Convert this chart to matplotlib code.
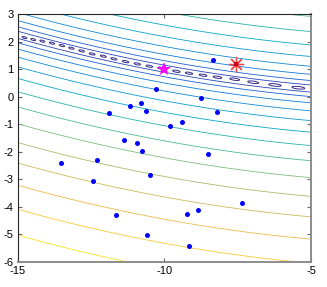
import numpy as np
import matplotlib
matplotlib.use("Agg")
import matplotlib.pyplot as plt
from matplotlib.colors import LinearSegmentedColormap, Normalize
from matplotlib.patches import Ellipse

# centres of the little closed loops along the bottom of the valley
valley_x = [-14.77, -14.47, -14.16, -13.83, -13.49, -13.17, -12.82, -12.46,
            -12.08, -11.72, -11.32, -10.92, -10.51, -10.10, -9.59, -9.16,
            -8.68, -8.19, -7.60, -6.97, -6.23, -5.43]
valley_y = [2.155, 2.083, 2.025, 1.952, 1.864, 1.770, 1.670, 1.560,
            1.477, 1.380, 1.280, 1.197, 1.113, 1.040, 0.930, 0.858,
            0.785, 0.712, 0.640, 0.530, 0.430, 0.330]

# sample points
pts_x = [-8.34, -10.27, -11.17, -10.81, -10.64, -11.88, -9.82, -8.75, -8.21,
         -9.41, -11.38, -10.93, -10.75, -13.51, -12.31, -12.44, -10.48,
         -11.64, -10.60, -8.50, -7.34, -8.86, -9.23, -9.15]
pts_y = [1.34, 0.28, -0.33, -0.21, -0.52, -0.59, -1.05, -0.03, -0.54,
         -0.90, -1.57, -1.69, -1.96, -2.42, -2.29, -3.05, -2.83,
         -4.30, -5.02, -2.08, -3.87, -4.12, -4.26, -5.43]

true_point = (-10.0, 1.0)
estimate = (-7.54, 1.20)

level_step = 0.18
n_levels = 15

x_ticks = [-15, -10, -5]
y_ticks = [-6, -5, -4, -3, -2, -1, 0, 1, 2, 3]

parula_pts = [(0.2081, 0.1663, 0.5292), (0.1253, 0.3242, 0.8303),
              (0.0629, 0.4737, 0.8554), (0.0488, 0.5772, 0.8228),
              (0.0267, 0.6642, 0.7607), (0.2178, 0.7250, 0.6193),
              (0.4871, 0.7491, 0.4840), (0.7184, 0.7411, 0.3905),
              (0.9139, 0.7258, 0.3063), (0.9789, 0.8271, 0.1633),
              (0.9763, 0.9831, 0.0538)]
parula = LinearSegmentedColormap.from_list("parula", parula_pts)

plt.rcParams["font.family"] = ["Liberation Sans", "DejaVu Sans"]
plt.rcParams["axes.unicode_minus"] = False

fig = plt.figure(figsize=(3.27, 2.87), dpi=100)
ax = fig.add_axes([0.054, 0.088, 0.897, 0.862])

# valley curve fitted through the loop centres
coef = np.polyfit(valley_x, valley_y, 2)
gx = np.linspace(-15, -5, 500)
gy = np.linspace(-6, 3, 500)
X, Y = np.meshgrid(gx, gy)
Z = np.sqrt(np.abs(Y - np.polyval(coef, X)))

norm = Normalize(vmin=level_step, vmax=Z.max())
levels = [level_step * k for k in range(2, n_levels + 1)]
ax.contour(X, Y, Z, levels=levels, cmap=parula, norm=norm, linewidths=0.6)

# the lowest level shows up as a chain of small loops
loop_col = parula(norm(level_step))
vx = np.array(valley_x)
gaps = np.gradient(vx)
dcoef = np.polyder(coef)
for cx, cy, gap in zip(valley_x, valley_y, gaps):
    w = 0.55 * gap
    h = 0.045 + 0.1 * w
    ang = np.degrees(np.arctan(np.polyval(dcoef, cx)))
    ax.add_patch(Ellipse((cx, cy), w, h, angle=ang, fill=False,
                         edgecolor=loop_col, lw=0.7))

ax.plot(pts_x, pts_y, "o", color="#0000ff", markersize=3.6, markeredgewidth=0)
ax.plot(*true_point, "*", color="#ff00ff", markersize=10, markeredgewidth=0)
ax.plot(*estimate, marker=(8, 2, 0), color="#ff4040", markersize=11,
        markeredgewidth=0.9, linestyle="none")
ax.plot(*estimate, "s", color="#c00020", markersize=3.5, markeredgewidth=0)

ax.set_xlim(-15, -5)
ax.set_ylim(-6, 3)
ax.set_xticks(x_ticks)
ax.set_yticks(y_ticks)
ax.tick_params(direction="in", length=3, width=0.8, color="#666666",
               top=True, right=True, labelsize=8, pad=3)
for side in ("left", "top"):
    ax.spines[side].set_color("#262626")
    ax.spines[side].set_linewidth(0.8)
for side in ("right", "bottom"):
    ax.spines[side].set_color("#8c8c8c")
    ax.spines[side].set_linewidth(1.4)

fig.savefig("out.png", dpi=100)
